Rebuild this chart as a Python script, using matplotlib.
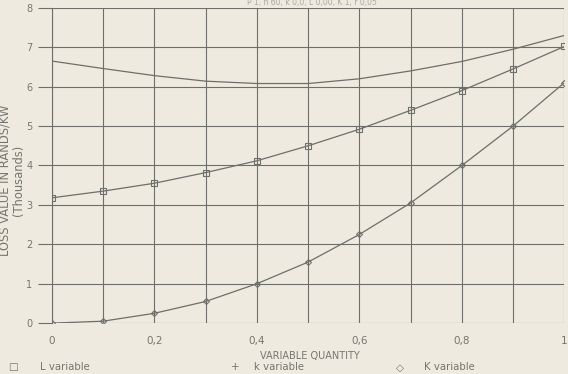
import numpy as np
import matplotlib.pyplot as plt

# values (thousands of rands/kW)
x_vals = [0.0, 0.1, 0.2, 0.3, 0.4, 0.5, 0.6, 0.7, 0.8, 0.9, 1.0]
L_var = [3.18, 3.35, 3.55, 3.82, 4.12, 4.50, 4.92, 5.40, 5.90, 6.45, 7.02]
k_var = [6.65, 6.46, 6.28, 6.14, 6.08, 6.08, 6.20, 6.40, 6.64, 6.95, 7.30]
K_var = [0.0, 0.05, 0.25, 0.55, 1.0, 1.55, 2.25, 3.05, 4.0, 5.0, 6.1]

x_ticks = [0, 0.2, 0.4, 0.6, 0.8, 1.0]
x_ticklabels = ['0', '0,2', '0,4', '0,6', '0,8', '1']
y_ticks = [0, 1, 2, 3, 4, 5, 6, 7, 8]

bg = '#eeeadf'
ink = '#6e6e6a'
txt = '#75756f'

fig = plt.figure(figsize=(5.68, 3.74), dpi=100, facecolor=bg)
ax = fig.add_axes([0.0915, 0.136, 0.902, 0.843])
ax.set_facecolor(bg)

ax.plot(x_vals, k_var, color=ink, lw=0.9)
ax.plot(x_vals, L_var, color=ink, lw=0.9, marker='s', ms=5,
        mfc='none', mec=ink, mew=0.8)
ax.plot(x_vals, K_var, color=ink, lw=0.9, marker='D', ms=3,
        mfc='none', mec=ink, mew=0.8)

ax.set_xlim(0, 1.0)
ax.set_ylim(0, 8)
ax.set_xticks(np.arange(0, 1.01, 0.1), minor=True)
ax.set_xticks(x_ticks)
ax.set_xticklabels(x_ticklabels)
ax.set_yticks(y_ticks)
ax.grid(True, which='both', axis='x', color=ink, lw=0.8)
ax.grid(True, axis='y', color=ink, lw=0.8)

for s in ['top', 'right', 'bottom']:
    ax.spines[s].set_visible(False)
ax.spines['left'].set_color(ink)
ax.spines['left'].set_linewidth(0.8)

ax.tick_params(axis='y', length=10, color=ink, width=0.8, labelsize=7,
               labelcolor=txt, pad=4)
ax.tick_params(axis='x', which='both', length=0, labelsize=7.5,
               labelcolor=txt, pad=9)

ax.set_ylabel('LOSS VALUE IN RANDS/KW\n(Thousands)', fontsize=8.3,
              color=txt, linespacing=1.05)
ax.yaxis.set_label_coords(-0.052, 0.454)

fig.text(0.546, 0.036, 'VARIABLE QUANTITY', fontsize=7, color=txt,
         ha='center', va='bottom')

fig.text(0.55, 0.992, 'P 1, n 60, k 0,0, L 0,00, K 1, r 0,05', fontsize=5.5,
         color='#a8a7a0', ha='center', va='center')

# legend row along the bottom
fig.text(0.014, 0.018, '\u25a1', fontsize=7.5, color=txt, va='center')
fig.text(0.07, 0.018, 'L variable', fontsize=7.3, color=txt, va='center')
fig.text(0.407, 0.018, '+', fontsize=7.5, color=txt, va='center')
fig.text(0.447, 0.018, 'k variable', fontsize=7.3, color=txt, va='center')
fig.text(0.698, 0.018, '\u25c7', fontsize=7.5, color=txt, va='center')
fig.text(0.747, 0.018, 'K variable', fontsize=7.3, color=txt, va='center')

fig.savefig('out.png', dpi=100, facecolor=bg)
